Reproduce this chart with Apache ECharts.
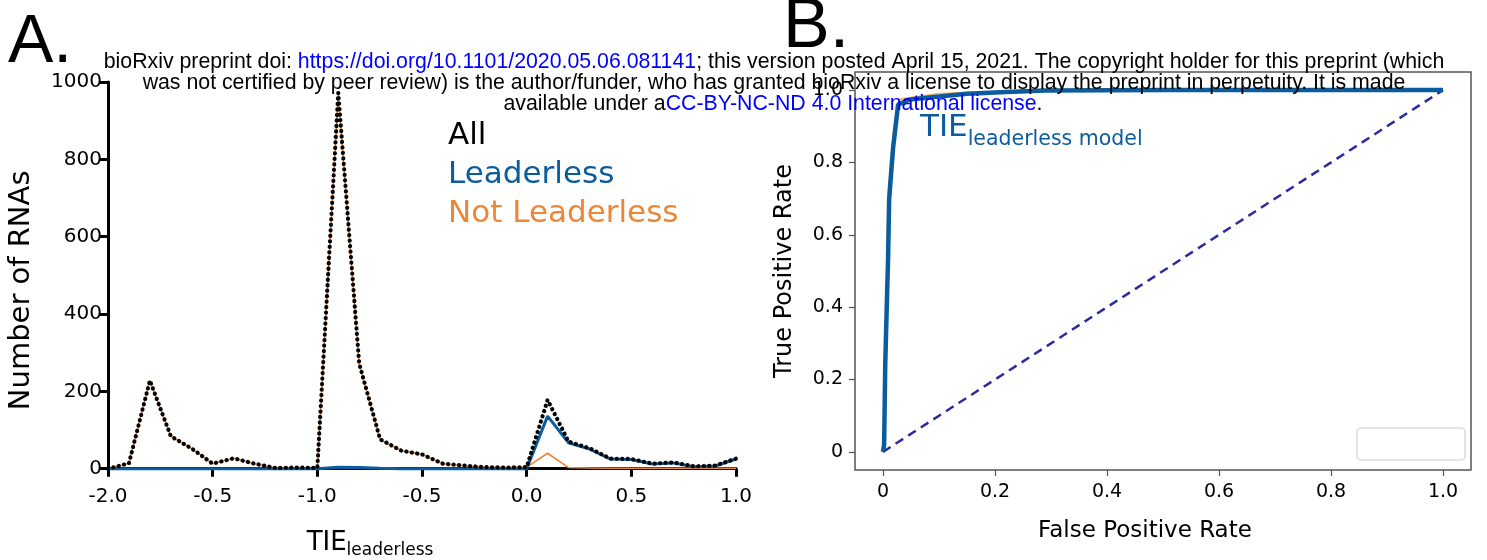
<!DOCTYPE html>
<html><head><meta charset="utf-8">
<script src="https://cdn.jsdelivr.net/npm/echarts@6/dist/echarts.min.js"></script>
<style>html,body{margin:0;padding:0;background:#fff}#c{width:1487px;height:560px}</style>
</head><body><div id="c"></div>
<script>
// ---- Panel A data ----
const tieBins = [-2.0,-1.9,-1.8,-1.7,-1.6,-1.5,-1.4,-1.3,-1.2,-1.1,-1.0,-0.9,-0.8,-0.7,-0.6,-0.5,-0.4,-0.3,-0.2,-0.1,0.0,0.1,0.2,0.3,0.4,0.5,0.6,0.7,0.8,0.9,1.0];
const allCounts = [0,14,228,84,52,13,27,13,2,3,2,972,272,76,47,37,13,8,4,3,4,178,70,53,26,25,13,16,6,8,26];
const leaderlessCounts = [0,0,0,0,0,0,0,0,0,0,0,4,3,1,0,0,0,0,0,0,0,136,67,51,25,24,12,15,5,7,25];
const notLeaderlessCounts = [0,14,228,84,52,13,27,13,2,3,2,968,269,75,47,37,13,8,4,3,4,40,3,2,1,1,1,1,1,1,1];
const tieTickLabels = ['-2.0','-0.5','-1.0','-0.5','0.0','0.5','1.0'];

// ---- Panel B data ----
const rocFpr = [0,0.002,0.004,0.007,0.009,0.011,0.018,0.027,0.048,0.10,0.15,0.22,0.29,0.5,1.0];
const rocTpr = [0,0.02,0.24,0.42,0.53,0.70,0.84,0.96,0.974,0.982,0.99,0.995,0.999,1.0,1.0];
const rocFprAlt = [0,0.002,0.005,0.01,0.02,0.03,0.1,0.3,1.0];
const rocTprAlt = [0,0.05,0.35,0.72,0.90,0.975,0.99,1.0,1.0];
const chanceFpr = [0,1];
const chanceTpr = [0,1];
const rateTicks = [0,0.2,0.4,0.6,0.8,1.0];
const rateTickLabels = ['0','0.2','0.4','0.6','0.8','1.0'];

const pairs = (xs, ys) => xs.map((x, i) => [x, ys[i]]);
const F = 'DejaVu Sans';
const BLUE = '#0b5c9e', ORANGE = '#ef8636';

const chart = echarts.init(document.getElementById('c'), null, {renderer: 'canvas'});
const rateLabel = v => { const i = rateTicks.findIndex(t => Math.abs(t - v) < 1e-6); return i >= 0 ? rateTickLabels[i] : ''; };

chart.setOption({
  animation: false,
  backgroundColor: '#fff',
  grid: [
    {left: 108, top: 82, width: 628, height: 386.7, show: false, outerBoundsMode: 'none', containLabel: false},
    {left: 855, top: 72, width: 616, height: 398, show: true, borderColor: '#555', borderWidth: 1.5, backgroundColor: 'transparent', outerBoundsMode: 'none', containLabel: false}
  ],
  legend: {
    data: [
      {name: 'All', textStyle: {color: '#000'}},
      {name: 'Leaderless', textStyle: {color: BLUE}},
      {name: 'Not Leaderless', textStyle: {color: ORANGE}}
    ],
    orient: 'vertical', left: 438, top: 115, icon: 'none', itemWidth: 0, itemHeight: 0, itemGap: 8,
    selectedMode: false,
    textStyle: {fontSize: 31, fontFamily: F, lineHeight: 31}
  },
  xAxis: [
    {gridIndex: 0, type: 'value', min: -2, max: 1, interval: 0.5,
     axisLine: {onZero: false, lineStyle: {color: '#000', width: 3}},
     axisTick: {length: 8, lineStyle: {color: '#000', width: 3}},
     axisLabel: {fontSize: 20, fontFamily: F, color: '#000', margin: 18,
       formatter: v => tieTickLabels[Math.round((v + 2) / 0.5)]},
     splitLine: {show: false},
     name: '{a|TIE}{b|leaderless}', nameLocation: 'middle', nameGap: 59,
     nameTextStyle: {padding: [0, 104, 0, 0], rich: {
       a: {fontSize: 26, fontFamily: F, color: '#000'},
       b: {fontSize: 17, fontFamily: F, color: '#000', padding: [14, 0, 0, 0]}}}
    },
    {gridIndex: 1, type: 'value', min: -0.05, max: 1.05,
     axisLine: {show: false, onZero: false},
     axisTick: {customValues: rateTicks, length: 6, lineStyle: {color: '#555', width: 1.2}},
     axisLabel: {customValues: rateTicks, formatter: rateLabel, fontSize: 19, fontFamily: F, color: '#000', margin: 13},
     splitLine: {show: false},
     name: 'False Positive Rate', nameLocation: 'middle', nameGap: 50,
     nameTextStyle: {fontSize: 23, fontFamily: F, color: '#000', padding: [0, 36, 0, 0]}
    }
  ],
  yAxis: [
    {gridIndex: 0, type: 'value', min: 0, max: 1000, interval: 200,
     axisLine: {show: true, onZero: false, lineStyle: {color: '#000', width: 3}},
     axisTick: {show: true, length: 8, lineStyle: {color: '#000', width: 3}},
     axisLabel: {fontSize: 20, fontFamily: F, color: '#000', margin: 6, formatter: v => String(v)},
     splitLine: {show: false},
     name: 'Number of RNAs', nameLocation: 'middle', nameGap: 72, nameRotate: 90,
     nameTextStyle: {fontSize: 29, fontFamily: F, color: '#000', padding: [0, 30, 0, 0]}
    },
    {gridIndex: 1, type: 'value', min: -0.05, max: 1.05,
     axisLine: {show: false, onZero: false},
     axisTick: {show: true, customValues: rateTicks, length: 6, lineStyle: {color: '#555', width: 1.2}},
     axisLabel: {customValues: rateTicks, formatter: rateLabel, fontSize: 19, fontFamily: F, color: '#000', margin: 12},
     splitLine: {show: false},
     name: 'True Positive Rate', nameLocation: 'middle', nameGap: 58, nameRotate: 90,
     nameTextStyle: {fontSize: 24, fontFamily: F, color: '#000'}
    }
  ],
  series: [
    {name: 'Not Leaderless', type: 'line', xAxisIndex: 0, yAxisIndex: 0, data: pairs(tieBins, notLeaderlessCounts),
     showSymbol: false, clip: false, lineStyle: {color: ORANGE, width: 1.6}, itemStyle: {color: ORANGE}, z: 2},
    {name: 'Leaderless', type: 'line', xAxisIndex: 0, yAxisIndex: 0, data: pairs(tieBins, leaderlessCounts),
     showSymbol: false, clip: false, lineStyle: {color: BLUE, width: 3}, itemStyle: {color: BLUE}, z: 3},
    {name: 'All', type: 'line', xAxisIndex: 0, yAxisIndex: 0, data: pairs(tieBins, allCounts),
     showSymbol: false, clip: false, lineStyle: {color: '#000', width: 4.2, type: [0.1, 5.4], cap: 'round'}, itemStyle: {color: '#000'}, z: 4},
    {name: 'ROC alt', type: 'line', xAxisIndex: 1, yAxisIndex: 1, data: pairs(rocFprAlt, rocTprAlt),
     showSymbol: false, clip: false, lineStyle: {color: '#f5b56a', width: 2}, z: 2},
    {name: 'Chance', type: 'line', xAxisIndex: 1, yAxisIndex: 1, data: pairs(chanceFpr, chanceTpr),
     showSymbol: false, clip: false, lineStyle: {color: '#2b2ba0', width: 2.5, type: [9, 6]}, z: 3},
    {name: 'ROC', type: 'line', xAxisIndex: 1, yAxisIndex: 1, data: pairs(rocFpr, rocTpr),
     showSymbol: false, clip: false, lineStyle: {color: BLUE, width: 4.5}, z: 4}
  ],
  graphic: [
    {type: 'rect', shape: {x: 1357, y: 428, width: 108, height: 32, r: 4}, style: {fill: '#fff', stroke: '#dcdcdc', lineWidth: 1.5}, z: 5},
    {type: 'text', x: 920, y: 128, z: 10, style: {
      text: '{a|TIE}{b|leaderless model}', verticalAlign: 'middle', align: 'left',
      rich: {a: {fontSize: 31, fontFamily: F, fill: BLUE}, b: {fontSize: 20.5, fontFamily: F, fill: BLUE, padding: [24, 0, 0, 0]}}}},
    {type: 'text', x: 8, y: 43, z: 20, style: {text: 'A.', fontSize: 68, fontFamily: 'Liberation Sans', fill: '#000', verticalAlign: 'middle', align: 'left'}},
    {type: 'text', x: 783, y: 28, z: 20, style: {text: 'B.', fontSize: 70, fontFamily: 'Liberation Sans', fill: '#000', verticalAlign: 'middle', align: 'left'}},
    {type: 'text', x: 774, y: 62, z: 30, style: {
      text: '{k|bioRxiv preprint doi: }{u|https://doi.org/10.1101/2020.05.06.081141}{k|; this version posted April 15, 2021. The copyright holder for this preprint (which}',
      align: 'center', verticalAlign: 'middle',
      rich: {k: {fontSize: 21.3, fontFamily: 'Liberation Sans', fill: '#000'}, u: {fontSize: 21.3, fontFamily: 'Liberation Sans', fill: '#0000ff'}}}},
    {type: 'text', x: 774, y: 83, z: 30, style: {
      text: 'was not certified by peer review) is the author/funder, who has granted bioRxiv a license to display the preprint in perpetuity. It is made',
      align: 'center', verticalAlign: 'middle', fontSize: 21.3, fontFamily: 'Liberation Sans', fill: '#000'}},
    {type: 'text', x: 773, y: 104, z: 30, style: {
      text: '{k|available under a}{u|CC-BY-NC-ND 4.0 International license}{k|.}',
      align: 'center', verticalAlign: 'middle',
      rich: {k: {fontSize: 21.3, fontFamily: 'Liberation Sans', fill: '#000'}, u: {fontSize: 21.3, fontFamily: 'Liberation Sans', fill: '#0000ff'}}}}
  ]
});
</script></body></html>
